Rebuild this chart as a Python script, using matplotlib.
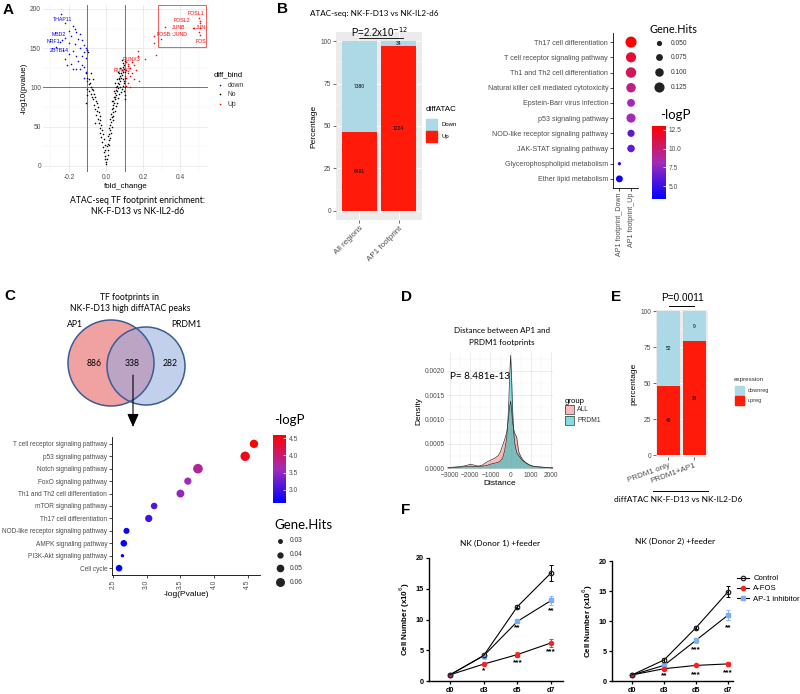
import matplotlib
matplotlib.use('Agg')
import matplotlib.pyplot as plt
import numpy as np
from matplotlib.patches import Rectangle, Circle
from matplotlib.colors import LinearSegmentedColormap, Normalize
import matplotlib.cm as cm

W, H = 800, 694
plt.rcParams['font.family'] = ['Liberation Sans', 'DejaVu Sans']
CAL = ['Lato', 'DejaVu Sans']   # calibri-like text
GREY = '#4D4D4D'
TK = 4.8  # tick label size

# ---------------- data ----------------
# A: volcano (fold_change, -log10 p)
blue_x = [-0.245, -0.22, -0.18, -0.17, -0.20, -0.16, -0.14, -0.19, -0.22, -0.15, -0.13, -0.25, -0.20, -0.17,
          -0.12, -0.11, -0.14, -0.23, -0.18, -0.12, -0.105, -0.20, -0.16, -0.13, -0.22, -0.11, -0.15, -0.19,
          -0.13, -0.21, -0.16, -0.14, -0.12, -0.18, -0.11, -0.12, -0.105, -0.27, -0.24]
blue_y = [194, 182, 178, 175, 172, 170, 168, 165, 163, 162, 160, 158, 157, 155,
          154, 150, 150, 148, 146, 145, 147, 143, 140, 140, 136, 138, 133, 130,
          128, 128, 124, 124, 126, 124, 120, 112, 108, 152, 160]
grey_x = [-0.11, -0.10, -0.09, -0.085, -0.08, -0.075, -0.07, -0.09, -0.065, -0.06, -0.07, -0.055, -0.05, -0.065,
          -0.045, -0.06, -0.05, -0.04, -0.055, -0.035, -0.045, -0.03, -0.04, -0.06, -0.025, -0.035, -0.02, -0.03,
          -0.015, -0.025, -0.01, -0.02, -0.008, -0.015, -0.005, -0.01, -0.003, -0.006, 0.0, 0.0, -0.10, -0.08,
          -0.075, -0.09, -0.105, -0.11, -0.08, -0.07, -0.10, -0.095,
          0.005, 0.008, 0.01, 0.004, 0.012, 0.015, 0.01, 0.018, 0.02, 0.014, 0.022, 0.025, 0.02, 0.03, 0.027,
          0.035, 0.03, 0.04, 0.036, 0.045, 0.04, 0.05, 0.046, 0.055, 0.05, 0.06, 0.056, 0.065, 0.06, 0.07, 0.066,
          0.075, 0.07, 0.08, 0.076, 0.085, 0.08, 0.09, 0.086, 0.095, 0.09, 0.098, 0.094, 0.10, 0.085, 0.09, 0.095,
          0.10, 0.098, 0.10, 0.085, 0.09, 0.08, 0.075, 0.07, 0.065, 0.06, 0.055, 0.05, 0.04, 0.035, 0.03, 0.025,
          0.02, 0.015, 0.06, 0.07, 0.065, 0.078, 0.10, 0.10, 0.097, 0.03, 0.045, 0.05, 0.10, 0.055, 0.045, 0.068]
grey_y = [118, 112, 110, 105, 100, 98, 96, 95, 92, 88, 85, 82, 80, 78,
          75, 72, 70, 68, 65, 63, 60, 58, 55, 55, 52, 48, 45, 42,
          40, 37, 34, 30, 27, 24, 20, 17, 13, 9, 5, 2, 98, 92,
          88, 104, 90, 80, 118, 110, 148, 145,
          8, 14, 20, 25, 28, 33, 38, 40, 45, 48, 52, 56, 60, 62, 66,
          68, 72, 74, 77, 80, 83, 85, 88, 90, 93, 95, 97, 99, 102, 104, 106,
          108, 110, 112, 114, 116, 118, 120, 122, 124, 126, 128, 131, 133, 135, 110, 105,
          100, 95, 90, 98, 102, 94, 100, 92, 86, 80, 76, 70, 64, 58, 50, 42,
          35, 26, 110, 118, 120, 125, 120, 112, 108, 82, 95, 105, 85, 100, 88, 112]
red_x = [0.26, 0.26, 0.27, 0.21, 0.17, 0.17, 0.15, 0.14, 0.12, 0.13, 0.11, 0.12, 0.14, 0.11, 0.13, 0.10,
         0.12, 0.15, 0.11, 0.18, 0.13, 0.10, 0.16, 0.12, 0.105,
         0.50, 0.505, 0.505, 0.47, 0.475, 0.505, 0.32, 0.295, 0.50, 0.505]
red_y = [165, 156, 141, 136, 146, 140, 128, 132, 130, 125, 122, 118, 118, 112, 114, 108,
         105, 110, 102, 108, 100, 115, 122, 127, 132,
         188, 185, 182, 176, 176, 176, 177, 162, 170, 167]

# B: stacked bars (counts)
b_cats = ['All regions', 'AP1 footprint']
b_up = [6481, 1224]
b_down = [7380, 34]

# B: KEGG dot plot
bd_terms = ['Ether lipid metabolism', 'Glycerophospholipid metabolism', 'JAK-STAT signaling pathway',
            'NOD-like receptor signaling pathway', 'p53 signaling pathway', 'Epstein-Barr virus infection',
            'Natural killer cell mediated cytotoxicity', 'Th1 and Th2 cell differentiation',
            'T cell receptor signaling pathway', 'Th17 cell differentiation']
bd_group = [1, 1, 2, 2, 2, 2, 2, 2, 2, 2]     # 1 = AP1 footprint_Down, 2 = AP1 footprint_Up
bd_hits = [0.075, 0.02, 0.085, 0.08, 0.11, 0.09, 0.115, 0.13, 0.125, 0.14]
bd_logp = [3.6, 4.6, 6.2, 6.0, 8.2, 8.0, 9.5, 10.6, 11.6, 13.0]

# C: venn counts
venn_counts = [886, 338, 282]

# C: dot plot
c_terms = ['Cell cycle', 'PI3K-Akt signaling pathway', 'AMPK signaling pathway',
           'NOD-like receptor signaling pathway', 'Th17 cell differentiation', 'mTOR signaling pathway',
           'Th1 and Th2 cell differentiation', 'FoxO signaling pathway', 'Notch signaling pathway',
           'p53 signaling pathway', 'T cell receptor signaling pathway']
c_logp = [2.59, 2.64, 2.66, 2.70, 3.03, 3.11, 3.50, 3.61, 3.76, 4.46, 4.59]
c_hits = [0.042, 0.018, 0.042, 0.038, 0.047, 0.042, 0.052, 0.047, 0.065, 0.063, 0.055]

# D: density of distance
d_dist = [-3100, -2800, -2500, -2200, -2000, -1800, -1600, -1400, -1200, -1000, -800, -600, -500, -400,
          -300, -200, -150, -100, -50, 0, 50, 100, 150, 200, 300, 400, 500, 600, 800, 1000, 1200, 1500,
          1800, 2000, 2100]
d_all = [0.00001, 0.00002, 0.00003, 0.00005, 0.00008, 0.00006, 0.00004, 0.00006, 0.00012, 0.00016,
         0.00020, 0.00026, 0.00034, 0.00046, 0.00058, 0.00072, 0.00086, 0.00105, 0.00125, 0.00138,
         0.00120, 0.00095, 0.00080, 0.00072, 0.00064, 0.00034, 0.00024, 0.00017, 0.00009, 0.00005,
         0.00003, 0.00002, 0.00001, 0.00001, 0.00001]
d_prdm1 = [0.0, 0.00001, 0.00002, 0.00003, 0.00004, 0.00003, 0.00003, 0.00004, 0.00005, 0.00008,
           0.00010, 0.00012, 0.00015, 0.00020, 0.00035, 0.00060, 0.00085, 0.00125, 0.00185, 0.00232,
           0.00185, 0.00120, 0.00075, 0.00052, 0.00032, 0.00026, 0.00020, 0.00015, 0.00010, 0.00005,
           0.00003, 0.00002, 0.00001, 0.0, 0.0]

# E: stacked bars (counts)
e_cats = ['PRDM1 only', 'PRDM1+AP1']
e_up = [48, 34]
e_down = [52, 9]

# F: growth curves
days = ['d0', 'd3', 'd5', 'd7']
d1_ctrl = [1.0, 4.15, 12.1, 17.6];  d1_ctrl_err = [0.1, 0.3, 0.3, 1.3]
d1_afos = [1.0, 2.75, 4.3, 6.2];    d1_afos_err = [0.1, 0.2, 0.45, 0.6]
d1_ap1 = [1.0, 4.1, 9.7, 13.1];     d1_ap1_err = [0.1, 0.5, 0.35, 0.8]
d1_stars = [(1, 1.6, '*'), (2, 8.6, '**'), (2, 3.0, '***'), (3, 11.5, '**'), (3, 4.8, '***')]
d2_ctrl = [1.0, 3.5, 8.9, 14.9];    d2_ctrl_err = [0.1, 0.3, 0.25, 0.9]
d2_afos = [1.0, 2.05, 2.6, 2.85];   d2_afos_err = [0.1, 0.2, 0.15, 0.3]
d2_ap1 = [1.0, 2.6, 6.8, 11.0];     d2_ap1_err = [0.1, 0.3, 0.45, 0.9]
d2_stars = [(1, 0.9, '**'), (2, 5.2, '***'), (2, 1.1, '***'), (3, 8.8, '**'), (3, 1.3, '***')]

# ---------------- helpers ----------------
fig = plt.figure(figsize=(W / 100, H / 100), dpi=100)


def add_ax(x0, y0, x1, y1):
    return fig.add_axes([x0 / W, 1 - y1 / H, (x1 - x0) / W, (y1 - y0) / H])


def gg_grey(ax):
    ax.set_facecolor('#EBEBEB')
    for sp in ax.spines.values():
        sp.set_visible(False)
    ax.grid(True, which='major', color='white', lw=0.6)
    ax.grid(True, which='minor', axis='y', color='white', lw=0.3)
    ax.set_axisbelow(True)
    ax.tick_params(which='major', length=2, width=0.5, color='#333333', labelsize=TK, labelcolor=GREY, pad=1.5)
    ax.tick_params(which='minor', length=0)


def gg_minimal(ax):
    for sp in ax.spines.values():
        sp.set_visible(False)
    ax.grid(True, which='major', color='#E5E5E5', lw=0.5)
    ax.grid(True, which='minor', color='#F2F2F2', lw=0.35)
    ax.set_axisbelow(True)
    ax.tick_params(which='both', length=0, labelsize=TK, labelcolor=GREY, pad=1.5)


cmap = LinearSegmentedColormap.from_list('bluered', ['#0000FF', '#A22CB8', '#FF0000'])

# ---------------- A ----------------
axA = add_ax(43, 5, 208, 172)
gg_minimal(axA)
axA.set_xlim(-0.34, 0.55)
axA.set_ylim(-8, 205)
axA.set_xticks([-0.2, 0.0, 0.2, 0.4])
axA.set_xticklabels(['-0.2', '0.0', '0.2', '0.4'])
axA.set_xticks([-0.3, -0.1, 0.1, 0.3, 0.5], minor=True)
axA.set_yticks([0, 50, 100, 150, 200])
axA.set_yticks([25, 75, 125, 175], minor=True)
axA.scatter(grey_x, grey_y, s=1.3, c='black', lw=0, zorder=3)
axA.scatter(blue_x, blue_y, s=1.3, c='blue', lw=0, zorder=3)
axA.scatter(red_x, red_y, s=1.3, c='red', lw=0, zorder=3)
axA.axvline(-0.1, color='#F04040', lw=0.7, zorder=2)
axA.axvline(0.1, color='#F04040', lw=0.7, zorder=2)
axA.axhline(100, color='#F04040', lw=0.7, zorder=2)
axA.add_patch(Rectangle((0.28, 151), 0.26, 54, fill=False, ec='#F04040', lw=0.6, clip_on=False))
for s, x, y in [('THAP11', -0.232, 186), ('MBD2', -0.254, 168), ('NRF1', -0.286, 159), ('ZBTB14', -0.254, 147)]:
    axA.text(x, y, s, color='blue', fontsize=3.8, ha='center', va='center')
for s, x, y, ha in [('FOSL1', 0.53, 194, 'right'), ('FOSL2', 0.455, 185, 'right'), ('JUNB', 0.43, 176, 'right'),
                    ('JUN', 0.54, 176, 'right'), ('FOSB::JUND', 0.44, 167, 'right'), ('FOS', 0.54, 158, 'right'),
                    ('RUNX3', 0.14, 135, 'center'), ('RUNX2', 0.086, 121, 'center')]:
    axA.text(x, y, s, color='red', fontsize=3.8, ha=ha, va='center')
axA.set_xlabel('fold_change', fontsize=5.8, labelpad=1.5)
axA.set_ylabel('-log10(pvalue)', fontsize=5.8, labelpad=1.5)

# ---------------- B bars ----------------
axB = add_ax(336, 32, 422, 220)
gg_grey(axB)
b_tot = np.array(b_up) + np.array(b_down)
b_up_pct = 100 * np.array(b_up) / b_tot
b_dn_pct = 100 * np.array(b_down) / b_tot
xb = np.arange(1, len(b_cats) + 1)
axB.bar(xb, b_up_pct, width=0.9, color='#FF1A0A', zorder=2)
axB.bar(xb, b_dn_pct, bottom=b_up_pct, width=0.9, color='#ADD8E6', zorder=2)
for i in range(len(xb)):
    axB.text(xb[i], b_up_pct[i] / 2, str(b_up[i]), fontsize=3.6, ha='center', va='center')
    axB.text(xb[i], b_up_pct[i] + b_dn_pct[i] / 2, str(b_down[i]), fontsize=3.6, ha='center', va='center')
axB.set_xlim(0.4, 2.6)
axB.set_ylim(-5.3, 105.3)
axB.set_yticks([0, 25, 50, 75, 100])
axB.set_yticks([12.5, 37.5, 62.5, 87.5], minor=True)
axB.set_xticks(xb)
axB.set_xticklabels(b_cats, rotation=45, ha='right', rotation_mode='anchor', fontsize=5.8)
axB.set_ylabel('Percentage', fontsize=6, labelpad=2)

# ---------------- B dot plot ----------------
axBd = add_ax(613, 33, 638, 188)
yb = np.arange(1, len(bd_terms) + 1)
bd_s = [(0.72 * (2 + 65 * g)) ** 2 for g in bd_hits]
axBd.scatter(bd_group, yb, s=bd_s, c=bd_logp, cmap=cmap, vmin=3.3, vmax=13.0, lw=0, zorder=3)
axBd.set_xlim(0.45, 2.6)
axBd.set_ylim(0.4, 10.6)
axBd.set_yticks(yb)
axBd.set_yticklabels(bd_terms, fontsize=5.1, color=GREY)
axBd.set_xticks([1, 2])
axBd.set_xticklabels(['AP1 footprint_Down', 'AP1 footprint_Up'], rotation=90, fontsize=5.1, color=GREY)
for sp in ['top', 'right']:
    axBd.spines[sp].set_visible(False)
for sp in ['left', 'bottom']:
    axBd.spines[sp].set_linewidth(0.6)
axBd.tick_params(length=2, width=0.5, pad=1.5)

caxB = add_ax(652, 126, 666, 199)
cbB = fig.colorbar(cm.ScalarMappable(norm=Normalize(3.3, 13.0), cmap=cmap), cax=caxB)
cbB.set_ticks([5, 7.5, 10, 12.5])
cbB.ax.set_yticklabels(['5.0', '7.5', '10.0', '12.5'])
cbB.outline.set_visible(False)
cbB.ax.tick_params(length=2, width=0.5, color='white', direction='in', labelsize=TK, labelcolor=GREY, pad=2)

# ---------------- C dot plot ----------------
axC = add_ax(112, 437, 260, 575)
yc = np.arange(1, len(c_terms) + 1)
c_s = [(0.72 * (1 + 133 * g)) ** 2 for g in c_hits]
axC.scatter(c_logp, yc, s=c_s, c=c_logp, cmap=cmap, vmin=2.62, vmax=4.59, lw=0, zorder=3)
axC.set_xlim(2.485, 4.68)
axC.set_ylim(0.45, 11.55)
axC.set_yticks(yc)
axC.set_yticklabels(c_terms, fontsize=4.7, color=GREY)
axC.set_xticks([2.5, 3.0, 3.5, 4.0, 4.5])
axC.set_xticklabels(['2.5', '3.0', '3.5', '4.0', '4.5'], rotation=90, fontsize=TK, color=GREY)
for sp in ['top', 'right']:
    axC.spines[sp].set_visible(False)
for sp in ['left', 'bottom']:
    axC.spines[sp].set_linewidth(0.6)
axC.tick_params(length=2, width=0.5, pad=1.5)
axC.set_xlabel('-log(Pvalue)', fontsize=6, labelpad=1.5)

caxC = add_ax(273, 435, 286, 503)
cbC = fig.colorbar(cm.ScalarMappable(norm=Normalize(2.62, 4.59), cmap=cmap), cax=caxC)
cbC.set_ticks([3.0, 3.5, 4.0, 4.5])
cbC.ax.set_yticklabels(['3.0', '3.5', '4.0', '4.5'])
cbC.outline.set_visible(False)
cbC.ax.tick_params(length=2, width=0.5, color='white', direction='in', labelsize=TK, labelcolor=GREY, pad=2)

# ---------------- D density ----------------
axD = add_ax(447, 352, 553, 470)
gg_minimal(axD)
axD.fill_between(d_dist, d_all, color='#F8766D', alpha=0.5, lw=0)
axD.plot(d_dist, d_all, color='#333333', lw=0.5)
axD.fill_between(d_dist, d_prdm1, color='#00BFC4', alpha=0.5, lw=0)
axD.plot(d_dist, d_prdm1, color='#333333', lw=0.5)
axD.set_xlim(-3150, 2100)
axD.set_ylim(-0.00004, 0.00239)
axD.set_xticks([-3000, -2000, -1000, 0, 1000, 2000])
axD.set_xticks([-2500, -1500, -500, 500, 1500], minor=True)
axD.set_yticks([0, 0.0005, 0.001, 0.0015, 0.002])
axD.set_yticklabels(['0.0000', '0.0005', '0.0010', '0.0015', '0.0020'])
axD.set_yticks([0.00025, 0.00075, 0.00125, 0.00175, 0.00225], minor=True)
axD.set_xlabel('Distance', fontsize=6, labelpad=1)
axD.set_ylabel('Density', fontsize=6, labelpad=1.5)
axD.text(-3000, 0.00188, 'P= 8.481e-13', fontsize=7.2, family=CAL, va='center')

# ---------------- E bars ----------------
axE = add_ax(656, 310, 708, 457)
gg_grey(axE)
e_tot = np.array(e_up) + np.array(e_down)
e_up_pct = 100 * np.array(e_up) / e_tot
e_dn_pct = 100 * np.array(e_down) / e_tot
xe = np.arange(1, len(e_cats) + 1)
axE.bar(xe, e_up_pct, width=0.9, color='#FF1A0A', zorder=2)
axE.bar(xe, e_dn_pct, bottom=e_up_pct, width=0.9, color='#ADD8E6', zorder=2)
for i in range(len(xe)):
    axE.text(xe[i], e_up_pct[i] / 2, str(e_up[i]), fontsize=3.5, ha='center', va='center')
    axE.text(xe[i], e_up_pct[i] + e_dn_pct[i] / 2, str(e_down[i]), fontsize=3.5, ha='center', va='center')
axE.set_xlim(0.52, 2.52)
axE.set_ylim(-1.2, 100.8)
axE.set_yticks([0, 25, 50, 75, 100])
axE.set_yticks([12.5, 37.5, 62.5, 87.5], minor=True)
axE.set_xticks(xe)
axE.set_xticklabels(e_cats, rotation=20, ha='right', rotation_mode='anchor', fontsize=5.8)
axE.set_ylabel('percentage', fontsize=6, labelpad=2)

# ---------------- F growth curves ----------------
xd = np.arange(len(days))


def growth(ax, ctrl, ce, afos, ae, ap1, pe, stars, xlim):
    ax.errorbar(xd, ctrl, yerr=ce, fmt='none', ecolor='black', elinewidth=0.7, capsize=1.5, capthick=0.7, zorder=2)
    ax.errorbar(xd, ap1, yerr=pe, fmt='none', ecolor='#8CB8F0', elinewidth=0.7, capsize=1.5, capthick=0.7, zorder=2)
    ax.errorbar(xd, afos, yerr=ae, fmt='none', ecolor='#FF3030', elinewidth=0.7, capsize=1.5, capthick=0.7, zorder=2)
    ax.plot(xd, ap1, color='black', lw=0.8, marker='s', ms=3.2, mfc='#7AAFF2', mec='#7AAFF2', zorder=3,
            label='AP-1 inhibitor')
    ax.plot(xd, afos, color='black', lw=0.8, marker='o', ms=3.0, mfc='#FF2020', mec='#FF2020', zorder=4,
            label='A-FOS')
    ax.plot(xd, ctrl, color='black', lw=0.8, marker='o', ms=3.2, mfc='none', mec='#222222', mew=0.9, zorder=5,
            label='Control')
    for x, y, s in stars:
        ax.text(x, y, s, fontsize=6, ha='center', va='center', fontweight='bold')
    ax.set_xlim(*xlim)
    ax.set_ylim(0, 20)
    ax.set_yticks([0, 5, 10, 15, 20])
    ax.set_xticks(xd)
    ax.set_xticklabels(days)
    for sp in ['top', 'right']:
        ax.spines[sp].set_visible(False)
    for sp in ['left', 'bottom']:
        ax.spines[sp].set_linewidth(1.0)
    ax.tick_params(length=2.5, width=0.9, labelsize=5.2, pad=1.5)
    for lab in ax.get_xticklabels() + ax.get_yticklabels():
        lab.set_fontweight('bold')
    ax.set_ylabel('Cell Number (x10$^{6}$)', fontsize=5.8, fontweight='bold', labelpad=2)


axF1 = add_ax(429, 558, 563, 681)
growth(axF1, d1_ctrl, d1_ctrl_err, d1_afos, d1_afos_err, d1_ap1, d1_ap1_err, d1_stars, (-0.62, 3.35))
axF2 = add_ax(612, 561, 733, 681)
growth(axF2, d2_ctrl, d2_ctrl_err, d2_afos, d2_afos_err, d2_ap1, d2_ap1_err, d2_stars, (-0.62, 3.15))
h, l = axF2.get_legend_handles_labels()
axF2.legend(h[::-1], l[::-1], loc='upper left', bbox_to_anchor=(733 / W, 1 - 571 / H),
            bbox_transform=fig.transFigure, frameon=False, fontsize=5.6, handlelength=1.6,
            handletextpad=0.5, labelspacing=0.35, borderpad=0)

# ---------------- overlay: text, legends, venn ----------------
axO = fig.add_axes([0, 0, 1, 1])
axO.set_xlim(0, W)
axO.set_ylim(H, 0)
axO.axis('off')

# panel letters
for s, x, y in [('A', 8, 10), ('B', 282, 9), ('C', 10, 296), ('D', 406, 297), ('E', 616, 297), ('F', 406, 510)]:
    axO.text(x, y, s, fontsize=11, fontweight='bold', ha='center', va='center')

# A legend + caption
axO.text(214, 75, 'diff_bind', fontsize=5.6, va='center')
for lab, col, y in [('down', 'blue', 85), ('No', 'black', 94), ('Up', 'red', 104)]:
    axO.scatter([220], [y], s=1.4, c=col, lw=0)
    axO.text(228, y, lab, fontsize=4.9, va='center', color='#333333')
axO.text(138, 200, 'ATAC-seq TF footprint enrichment:', fontsize=6.2, family=CAL, ha='center', va='center')
axO.text(138, 211, 'NK-F-D13 vs NK-IL2-d6', fontsize=6.2, family=CAL, ha='center', va='center')

# B texts
axO.text(310, 13, 'ATAC-seq: NK-F-D13 vs NK-IL2-d6', fontsize=5.9, family=CAL, va='center')
axO.text(380, 32, 'P=2.2x10$^{-12}$', fontsize=7, ha='center', va='center')
axO.plot([359, 403], [37.5, 37.5], color='black', lw=0.6)
axO.text(426, 109, 'diffATAC', fontsize=5.8, va='center')
axO.add_patch(Rectangle((426, 119), 11, 11, color='#ADD8E6'))
axO.add_patch(Rectangle((426, 131), 11, 11, color='#FF1A0A'))
axO.text(441, 124.5, 'Down', fontsize=4.3, va='center')
axO.text(441, 136.5, 'Up', fontsize=4.3, va='center')

# B dot legends
axO.text(650, 29, 'Gene.Hits', fontsize=7.8, family=CAL, va='center')
for g, y in [(0.05, 43), (0.075, 57), (0.1, 72), (0.125, 87)]:
    axO.scatter([659], [y], s=(0.72 * (2 + 65 * g)) ** 2, c='#222222', lw=0)
    axO.text(671, y, '%.3f' % g, fontsize=TK, va='center', color='#333333')
axO.text(660, 115, '-logP', fontsize=9.5, family=CAL, va='center')

# C venn
cx = [111, 146]
cy = [363, 366]
cr = [43, 39]
left = Circle((cx[0], cy[0]), cr[0], fc='#F0A2A2', ec='none', zorder=1)
right = Circle((cx[1], cy[1]), cr[1], fc='#C2D0EC', ec='none', zorder=2)
axO.add_patch(left)
axO.add_patch(right)
mid = Circle((cx[0], cy[0]), cr[0], fc='#BBA4C4', ec='none', zorder=3)
axO.add_patch(mid)
mid.set_clip_path(right)
axO.add_patch(Circle((cx[0], cy[0]), cr[0], fill=False, ec='#3B5C94', lw=1.1, zorder=4))
axO.add_patch(Circle((cx[1], cy[1]), cr[1], fill=False, ec='#3B5C94', lw=1.1, zorder=4))
for n, x in zip(venn_counts, [94, 132, 170]):
    axO.text(x, 363, str(n), fontsize=6.2, family=CAL, ha='center', va='center', zorder=5)
axO.text(75, 324, 'AP1', fontsize=6.2, family=CAL, ha='center', va='center')
axO.text(186, 324, 'PRDM1', fontsize=6.2, family=CAL, ha='center', va='center')
axO.text(130, 297, 'TF footprints in', fontsize=6.2, family=CAL, ha='center', va='center')
axO.text(130, 308, 'NK-F-D13 high diffATAC peaks', fontsize=6.2, family=CAL, ha='center', va='center')
axO.annotate('', xy=(133, 427), xytext=(133, 375),
             arrowprops=dict(arrowstyle='-|>,head_width=0.35,head_length=0.8', color='black', lw=0.8,
                             shrinkA=0, shrinkB=0), zorder=6)

# C legends
axO.text(274, 420, '-logP', fontsize=9.5, family=CAL, va='center')
axO.text(274, 525, 'Gene.Hits', fontsize=9.5, family=CAL, va='center')
for g, y in [(0.03, 541), (0.04, 555), (0.05, 568), (0.06, 582)]:
    axO.scatter([280], [y], s=(0.72 * (1 + 133 * g)) ** 2, c='#222222', lw=0)
    axO.text(290, y, '%.2f' % g, fontsize=TK, va='center', color='#333333')

# D texts
axO.text(502, 330, 'Distance between AP1 and', fontsize=5.8, family=CAL, ha='center', va='center')
axO.text(502, 342, 'PRDM1 footprints', fontsize=5.8, family=CAL, ha='center', va='center')
axO.text(565, 401, 'group', fontsize=5.6, va='center')
axO.add_patch(Rectangle((565, 405), 9, 9, fc='#F8766D', alpha=0.5, ec='none'))
axO.add_patch(Rectangle((565, 405), 9, 9, fill=False, ec='#333333', lw=0.5))
axO.add_patch(Rectangle((565, 416), 9, 9, fc='#00BFC4', alpha=0.5, ec='none'))
axO.add_patch(Rectangle((565, 416), 9, 9, fill=False, ec='#333333', lw=0.5))
axO.text(577, 409.5, 'ALL', fontsize=4.9, va='center', color='#333333')
axO.text(577, 420.5, 'PRDM1', fontsize=4.9, va='center', color='#333333')

# E texts
axO.text(682, 298, 'P=0.0011', fontsize=7.2, ha='center', va='center')
axO.plot([669, 694], [306, 306], color='black', lw=0.7)
axO.text(734, 379, 'expression', fontsize=4.5, va='center', color='#333333')
axO.add_patch(Rectangle((735, 386), 9, 9, color='#ADD8E6'))
axO.add_patch(Rectangle((735, 396), 9, 9, color='#FF1A0A'))
axO.text(748, 390.5, 'downreg', fontsize=4.0, va='center', color='#333333')
axO.text(748, 400.5, 'upreg', fontsize=4.0, va='center', color='#333333')
axO.plot([653, 708], [491, 491], color='black', lw=0.7)
axO.text(678, 499, 'diffATAC NK-F-D13 vs NK-IL2-D6', fontsize=6, family=CAL, ha='center', va='center')

# F titles
axO.text(500, 543, 'NK (Donor 1) +feeder', fontsize=6, family=CAL, ha='center', va='center')
axO.text(675, 541, 'NK (Donor 2) +feeder', fontsize=6, family=CAL, ha='center', va='center')

fig.savefig('out.png', dpi=100)
